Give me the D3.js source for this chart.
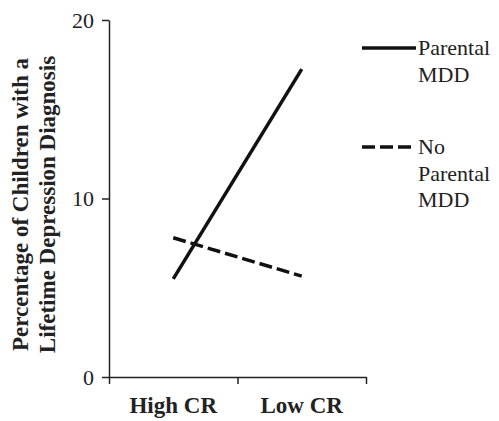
<!DOCTYPE html>
<html><head><meta charset="utf-8">
<script src="https://cdn.jsdelivr.net/npm/d3@7"></script>
<style>body{margin:0;background:#fff}svg{display:block}</style>
</head><body>
<svg id="c" width="499" height="421" font-family="Liberation Serif" fill="#222"></svg>
<script>
const categories = ["High CR", "Low CR"];
const seriesNames = ["Parental MDD", "No Parental MDD"];
const parentalMDD = [5.5, 17.25];
const noParentalMDD = [7.8, 5.65];
const yTicks = [0, 10, 20];
const legendLines = [["Parental", "MDD"], ["No", "Parental", "MDD"]];
const yTitleLines = ["Percentage of Children with a", "Lifetime Depression Diagnosis"];

(function () {
const svg = d3.select("#c");
const mLeft = 109, mRight = 366, mTop = 20, mBottom = 377;

const x = d3.scaleBand().domain(categories).range([mLeft, mRight]).padding(0);
const xb = d3.scaleLinear().domain([0, categories.length]).range([mLeft, mRight]);
const y = d3.scaleLinear().domain([0, 20]).range([mBottom, mTop]);

// y axis
const ya = svg.append("g").attr("transform", `translate(${mLeft},0)`)
  .call(d3.axisLeft(y).tickValues(yTicks).tickSize(7).tickSizeOuter(0).tickPadding(8).tickFormat(d3.format("d")));
ya.attr("font-family", "Liberation Serif").attr("font-size", 22);
ya.selectAll("text").attr("fill", "#222");
ya.selectAll("line,path").attr("stroke", "#222").attr("stroke-width", 1.5);

// x axis: boundary ticks
const xa = svg.append("g").attr("transform", `translate(0,${mBottom})`)
  .call(d3.axisBottom(xb).tickValues(d3.range(categories.length + 1)).tickSize(7).tickSizeOuter(0).tickFormat(""));
xa.attr("font-family", "Liberation Serif");
xa.selectAll("line,path").attr("stroke", "#222").attr("stroke-width", 1.5);
svg.append("g").selectAll("text").data(categories).join("text")
  .attr("x", d => x(d) + x.bandwidth() / 2).attr("y", 413)
  .attr("text-anchor", "middle").attr("font-family", "Liberation Serif").attr("font-weight", "bold")
  .attr("font-size", 23).text(d => d);

// y title
const yt = svg.append("text").attr("transform", `translate(0,${(mTop + mBottom) / 2 + 6}) rotate(-90)`)
  .attr("text-anchor", "middle").attr("font-family", "Liberation Serif").attr("font-weight", "bold")
  .attr("font-size", 23);
yTitleLines.forEach((t, i) => yt.append("tspan").attr("x", 0).attr("y", 28 + i * 27).text(t));

// lines
const line = d3.line().x((d, i) => x(categories[i]) + x.bandwidth() / 2).y(d => y(d));
const series = [parentalMDD, noParentalMDD];
const dashes = [null, "13,5"];
svg.append("g").selectAll("path").data(series).join("path")
  .attr("d", d => line(d)).attr("fill", "none").attr("stroke", "#111")
  .attr("stroke-width", 3.5).attr("stroke-dasharray", (d, i) => dashes[i]);

// legend
const legY = [48, 147];
const lg = svg.append("g");
legendLines.forEach((lines, i) => {
  lg.append("line").attr("x1", 362).attr("x2", 416).attr("y1", legY[i]).attr("y2", legY[i])
    .attr("stroke", "#111").attr("stroke-width", 3.5).attr("stroke-dasharray", dashes[i]);
  const t = lg.append("text").attr("font-family", "Liberation Serif").attr("font-size", 22);
  lines.forEach((s, j) => t.append("tspan").attr("x", 418).attr("y", legY[i] + 7 + j * 26.5).text(s));
});
})();
</script>
</body></html>
